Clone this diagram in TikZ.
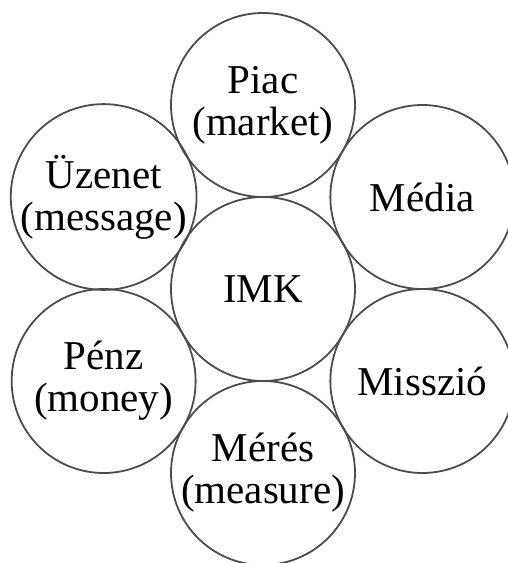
\documentclass[tikz,border=0pt]{standalone}
\usepackage{fontspec}
\setmainfont{Liberation Serif}
\usepackage{tikz}

\begin{document}
\begin{tikzpicture}[x=0.5pt, y=0.5pt, line width=0.9pt,
  every node/.style={font=\fontsize{20.5}{21}\selectfont, align=center},
  bubble/.style={circle, draw=black!70, inner sep=0pt, minimum size=92pt}]
\def\D{184}
\useasboundingbox (0,-563) rectangle (508,0);
\node[bubble] (imk) at (263,-289) {IMK};
\node[bubble] (piac)    at ([shift={(90:\D)}]imk.center)  {Piac\\(market)};
\node[bubble] (media)   at ([shift={(30:\D)}]imk.center)  {Média};
\node[bubble] (misszio) at ([shift={(-30:\D)}]imk.center) {Misszió};
\node[bubble] (meres)   at ([shift={(-90:\D)}]imk.center) {Mérés\\(measure)};
\node[bubble] (penz)    at ([shift={(210:\D)}]imk.center) {Pénz\\(money)};
\node[bubble] (uzenet)  at ([shift={(150:\D)}]imk.center) {Üzenet\\(message)};
\end{tikzpicture}
\end{document}
